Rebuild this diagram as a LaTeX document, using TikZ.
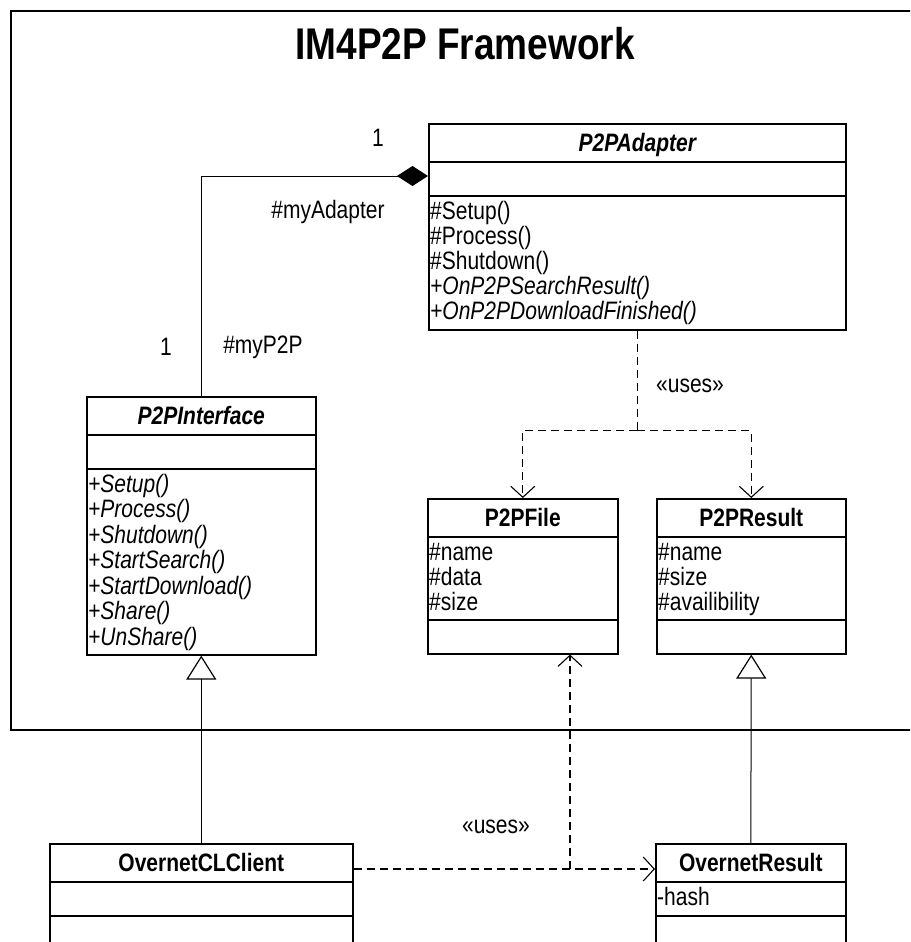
\documentclass[tikz,border=0pt]{standalone}
\usepackage{fontspec}
\setmainfont{Liberation Sans}
\usetikzlibrary{arrows.meta}

\tikzset{
  tall/.style={yscale=1.2},
  classbox/.style={draw, line width=1.6pt, anchor=north west, inner sep=0pt},
  cname/.style={tall, anchor=base, font=\fontsize{21}{25}\selectfont\bfseries},
  member/.style={tall, anchor=base west, inner sep=0pt},
  sep/.style={line width=1.6pt},
  inherit/.style={line width=1pt, -{Triangle[open, length=24pt, width=30pt, line width=1.2pt]}},
  uses/.style={line width=1.2pt, dash pattern=on 8pt off 5pt, -{Straight Barb[length=11pt, width=24pt, line width=1.1pt]}},
  compose/.style={line width=1pt, -{Diamond[length=31pt, width=20pt]}},
}

\begin{document}
\begin{tikzpicture}[x=1pt,y=-1pt,every node/.style={font=\fontsize{21}{25}\selectfont}]
\useasboundingbox[fill=white] (0,0) rectangle (910,942);
\clip (0,0) rectangle (910,942);

% package
\node[draw, line width=2pt, anchor=north west, minimum width=915pt, minimum height=719pt] (frame) at (10,10) {};
\node[tall, font=\fontsize{37}{44}\selectfont\bfseries] (title) at (465,44) {IM4P2P Framework};

% classes
\node[classbox, minimum width=417pt, minimum height=206pt] (adapter) at (428,123) {};
\node[classbox, minimum width=229pt, minimum height=258pt] (iface) at (86,396) {};
\node[classbox, minimum width=190pt, minimum height=155pt] (file) at (427,498) {};
\node[classbox, minimum width=189pt, minimum height=155pt] (result) at (656,498) {};
\node[classbox, minimum width=303pt, minimum height=130pt] (clclient) at (49,843) {};
\node[classbox, minimum width=190pt, minimum height=130pt] (oresult) at (655,843) {};

\foreach \c/\a/\b in {adapter/39/73, iface/39/73, file/39/122, result/39/122, clclient/39/73, oresult/39/73} {
  \draw[sep] ([yshift=-\a pt]\c.north west) -- ([yshift=-\a pt]\c.north east);
  \draw[sep] ([yshift=-\b pt]\c.north west) -- ([yshift=-\b pt]\c.north east);
}

\node[cname] (adaptername) at ([yshift=-28pt]adapter.north) {\itshape P2PAdapter};
\node[cname] (ifacename) at ([yshift=-28pt]iface.north) {\itshape P2PInterface};
\node[cname] (filename) at ([yshift=-28pt]file.north) {P2PFile};
\node[cname] (resultname) at ([yshift=-28pt]result.north) {P2PResult};
\node[cname] (clclientname) at ([yshift=-28pt]clclient.north) {OvernetCLClient};
\node[cname] (oresultname) at ([yshift=-28pt]oresult.north) {OvernetResult};

% members
\node[member] (am0) at (430,219) {\#Setup()};
\node[member] (am1) at (430,244) {\#Process()};
\node[member] (am2) at (430,269) {\#Shutdown()};
\node[member] (am3) at (430,294) {\itshape +OnP2PSearchResult()};
\node[member] (am4) at (430,319) {\itshape +OnP2PDownloadFinished()};

\foreach \m [count=\i from 0] in {Setup,Process,Shutdown,StartSearch,StartDownload,Share,UnShare}
  \node[member] (im\i) at (88,{492+25.5*\i}) {\itshape +\m()};

\foreach \m [count=\i from 0] in {name,data,size}
  \node[member] (fa\i) at (429,{560+25*\i}) {\#\m};
\foreach \m [count=\i from 0] in {name,size,availibility}
  \node[member] (ra\i) at (658,{560+25*\i}) {\#\m};
\node[member] (oa0) at (657,905) {-hash};

% composition
\coordinate (port) at ([yshift=-53pt]adapter.north west);
\draw[compose] (iface.north) |- (port);
\node[tall] (mult1) at (378,138) {1};
\node[tall] (mult2) at (166,347) {1};
\node[tall] (roleadapter) at (328,212) {\#myAdapter};
\node[tall] (rolep2p) at (263,347) {\#myP2P};

% dependencies
\coordinate (fork) at ([yshift=-100pt]adapter.south);
\draw[uses, -] (adapter.south) -- (fork);
\draw[uses] (fork) -| (file.north);
\draw[uses] (fork) -| (result.north);
\node[tall] (uses1) at (690,386) {«uses»};

\coordinate (junc) at (570,869);
\draw[uses] ([yshift=-26pt]clclient.north east) -- ([yshift=-26pt]oresult.north west);
\draw[uses] (junc) -- (junc |- file.south);
\node[tall] (uses2) at (496,827) {«uses»};

% generalizations
\draw[inherit] (clclient.north) -- (iface.south);
\draw[inherit] (oresult.north) -- (result.south);
\end{tikzpicture}
\end{document}
